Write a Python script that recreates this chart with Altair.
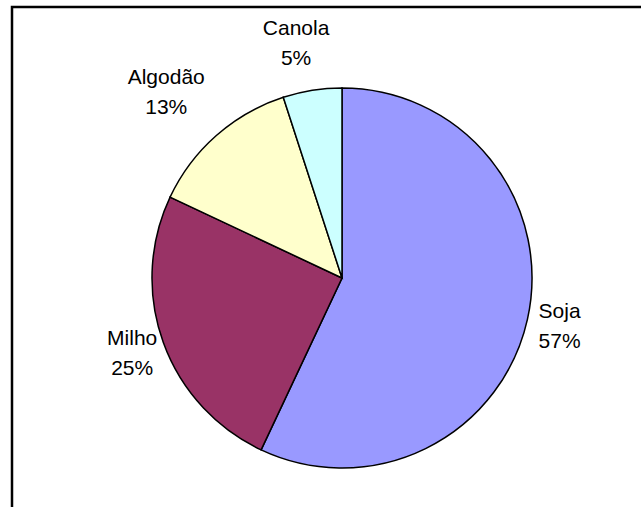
import altair as alt
import pandas as pd

crops = ["Soja", "Milho", "Algodão", "Canola"]
shares = [57, 25, 13, 5]
colors = ["#9999FF", "#993366", "#FFFFCC", "#CCFFFF"]

df = pd.DataFrame({"crop": crops, "share": shares, "idx": list(range(len(crops)))})

W, H = 641, 507
CX, CY, R = 342, 278, 190

base = alt.Chart(df)

frame = base.transform_filter("datum.idx == 0").mark_rect(
    fill=None, stroke="black", strokeWidth=2.5
).encode(
    x=alt.value(12), x2=alt.value(W + 20), y=alt.value(7), y2=alt.value(H + 20)
)

pie = base.mark_arc(stroke="black", strokeWidth=1.5, radius=R).encode(
    theta=alt.Theta("share:Q", stack=True),
    order=alt.Order("idx:Q", sort="ascending"),
    color=alt.Color("crop:N", scale=alt.Scale(domain=crops, range=colors), legend=None),
    x=alt.value(CX),
    y=alt.value(CY),
)

labels = base.transform_joinaggregate(
    total="sum(share)"
).transform_window(
    cum="sum(share)", sort=[alt.SortField("idx", order="ascending")], frame=[None, 0]
).transform_calculate(
    mid="(datum.cum - datum.share / 2) / datum.total * 2 * PI"
    " + (datum.crop == 'Canola' ? -0.037 : (datum.crop == 'Algodão' ? -0.038 : 0))",
    r="datum.crop == 'Algodão' ? 255 : (datum.crop == 'Canola' ? 238 : 223)",
    label="[datum.crop, datum.share + '%']",
).mark_text(
    font="Liberation Sans", fontSize=21, lineHeight=30, color="black",
    align="center", baseline="middle", dy=-15,
).encode(
    theta=alt.Theta("mid:Q", scale=None, stack=None),
    radius=alt.Radius("r:Q", scale=None),
    text=alt.Text("label:N"),
    x=alt.value(CX),
    y=alt.value(CY),
)

chart = alt.layer(frame, pie, labels).properties(
    width=W, height=H, padding=0, autosize=alt.AutoSizeParams(type="none"),
    background="white",
).configure_view(stroke=None)

chart.save("out.html", embed_options={"renderer": "svg", "actions": False})
